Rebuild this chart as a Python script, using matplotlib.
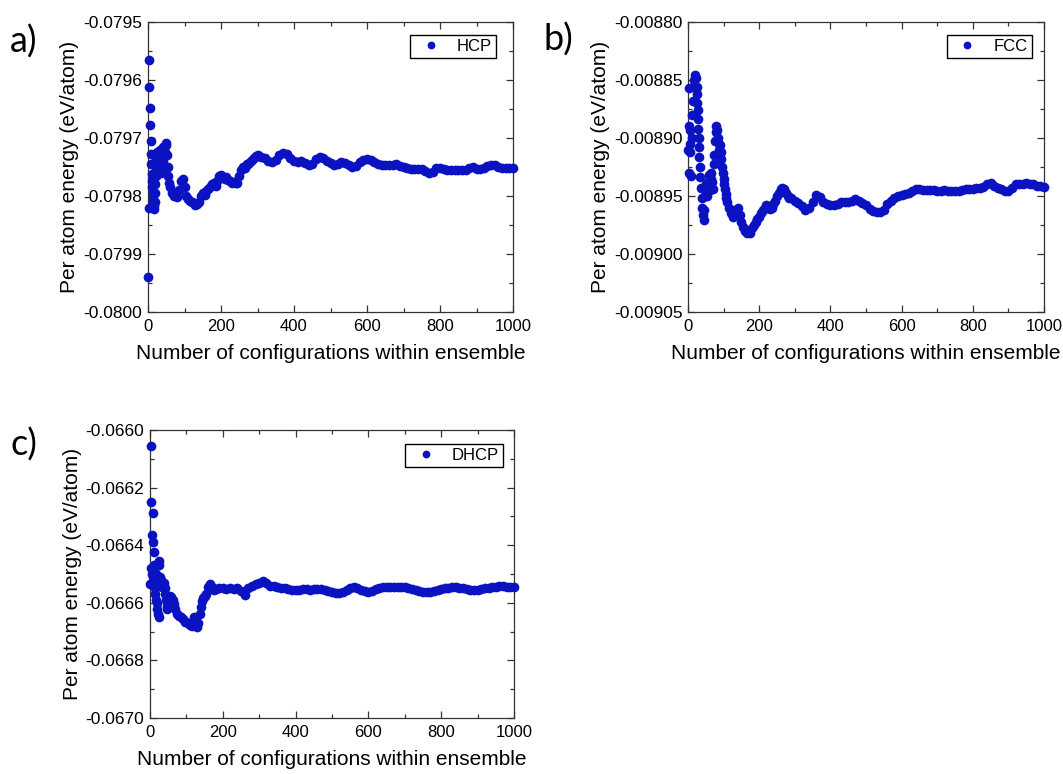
import matplotlib
matplotlib.use('Agg')
import matplotlib.pyplot as plt
from matplotlib.ticker import MultipleLocator, FormatStrFormatter

plt.rcParams['font.family'] = ['Liberation Sans', 'DejaVu Sans']

# ---------------- data ----------------
# HCP
hcp_n = ([1, 2, 3, 4, 5, 6, 7, 8, 9, 10, 11, 12, 13, 14, 15, 16, 17, 18, 19, 20,
          21, 22, 23, 24, 26, 28, 30, 32, 34, 36, 38, 40, 42, 44, 46, 48, 50, 52,
          54, 56, 58, 60]
         + list(range(65, 301, 5)) + list(range(310, 1001, 10)))
hcp_e = [-0.079940, -0.079820, -0.079565, -0.079612, -0.079649, -0.079678, -0.079706,
         -0.079727, -0.079745, -0.079762, -0.079775, -0.079785, -0.079795, -0.079805,
         -0.079812, -0.079818, -0.079822, -0.079810, -0.079795, -0.079780, -0.079765,
         -0.079750, -0.079735, -0.079725, -0.079745, -0.079760, -0.079735, -0.079720,
         -0.079745, -0.079760, -0.079730, -0.079715, -0.079740, -0.079755, -0.079725,
         -0.079708, -0.079712, -0.079730, -0.079750, -0.079765, -0.079778, -0.079785,
         # 65..300 step 5
         -0.079795, -0.079800, -0.079798, -0.079802, -0.079790, -0.079775, -0.079770, -0.079785,
         -0.079800, -0.079805, -0.079808, -0.079810, -0.079812, -0.079815, -0.079813, -0.079810,
         -0.079800, -0.079795, -0.079798, -0.079792, -0.079788, -0.079784, -0.079780, -0.079778,
         -0.079782, -0.079775, -0.079765, -0.079763, -0.079768, -0.079770, -0.079768, -0.079772,
         -0.079775, -0.079778, -0.079776, -0.079778, -0.079777, -0.079765, -0.079755, -0.079750,
         -0.079752, -0.079745, -0.079745, -0.079742, -0.079738, -0.079735, -0.079731, -0.079730,
         # 310..1000 step 10
         -0.079732, -0.079735, -0.079740, -0.079742, -0.079738, -0.079730, -0.079726, -0.079728, -0.079735, -0.079740,
         -0.079741, -0.079740, -0.079743, -0.079747, -0.079745, -0.079736, -0.079732, -0.079735, -0.079740, -0.079743,
         -0.079746, -0.079744, -0.079741, -0.079743, -0.079746, -0.079750, -0.079749, -0.079742, -0.079738, -0.079736,
         -0.079738, -0.079742, -0.079745, -0.079747, -0.079747, -0.079746, -0.079746, -0.079745, -0.079748, -0.079750,
         -0.079751, -0.079753, -0.079753, -0.079754, -0.079754, -0.079757, -0.079760, -0.079758, -0.079752, -0.079752,
         -0.079754, -0.079755, -0.079756, -0.079756, -0.079756, -0.079755, -0.079755, -0.079752, -0.079750, -0.079754,
         -0.079754, -0.079752, -0.079749, -0.079746, -0.079747, -0.079750, -0.079752, -0.079752, -0.079752, -0.079752]

# FCC
fcc_n = ([1, 2, 3, 4, 5, 6, 7, 8, 10, 12, 14, 16, 18, 20, 22, 24, 25, 26, 27, 28, 29,
          30, 31, 32, 33, 34] + list(range(36, 111, 2))
         + list(range(115, 291, 5)) + list(range(300, 1001, 10)))
fcc_e = [-0.008910, -0.008890, -0.008857, -0.008930, -0.008905, -0.008893, -0.008912,
         -0.008933, -0.008900, -0.008880, -0.008868, -0.008856, -0.008850, -0.008846,
         -0.008848, -0.008856, -0.008862, -0.008870, -0.008876, -0.008884, -0.008892,
         -0.008900, -0.008908, -0.008916, -0.008925, -0.008934,
         # 36..110 step 2
         -0.008943, -0.008952, -0.008960, -0.008966, -0.008971, -0.008962, -0.008950, -0.008940,
         -0.008945, -0.008950, -0.008938, -0.008932, -0.008940, -0.008945, -0.008935, -0.008930,
         -0.008938, -0.008944, -0.008922, -0.008915, -0.008903, -0.008895, -0.008890, -0.008893,
         -0.008900, -0.008905, -0.008910, -0.008906, -0.008912, -0.008918, -0.008925, -0.008930,
         -0.008935, -0.008940, -0.008944, -0.008948, -0.008952, -0.008955,
         # 115..290 step 5
         -0.008960, -0.008965, -0.008968, -0.008964, -0.008962, -0.008960, -0.008966, -0.008972,
         -0.008977, -0.008980, -0.008982, -0.008980, -0.008982, -0.008978, -0.008975, -0.008972,
         -0.008970, -0.008968, -0.008965, -0.008962, -0.008960, -0.008958, -0.008960, -0.008961,
         -0.008960, -0.008957, -0.008954, -0.008950, -0.008947, -0.008944, -0.008943, -0.008944,
         -0.008947, -0.008950, -0.008952, -0.008952,
         # 300..1000 step 10
         -0.008954, -0.008956, -0.008959, -0.008962, -0.008960, -0.008955, -0.008949, -0.008951, -0.008955, -0.008957,
         -0.008958, -0.008958, -0.008957, -0.008955, -0.008955, -0.008955, -0.008954, -0.008953, -0.008954, -0.008956,
         -0.008958, -0.008961, -0.008963, -0.008964, -0.008964, -0.008962, -0.008957, -0.008954, -0.008952, -0.008950,
         -0.008949, -0.008948, -0.008947, -0.008946, -0.008944, -0.008944, -0.008945, -0.008945, -0.008945, -0.008945,
         -0.008946, -0.008946, -0.008945, -0.008946, -0.008946, -0.008946, -0.008946, -0.008945, -0.008944, -0.008944,
         -0.008944, -0.008943, -0.008943, -0.008942, -0.008940, -0.008939, -0.008941, -0.008943, -0.008944, -0.008946,
         -0.008946, -0.008943, -0.008940, -0.008940, -0.008940, -0.008939, -0.008940, -0.008940, -0.008941, -0.008941,
         -0.008942]

# DHCP
dhcp_n = ([1, 2, 3, 4, 5, 6, 7, 8, 9, 10, 11, 12, 13, 14, 15, 16, 17, 18, 19, 20,
           22, 24, 25, 26, 28, 30, 32, 34, 36, 38, 40, 42, 44, 46, 48, 50, 53, 56,
           59, 62, 65, 70, 75, 80, 85, 90, 95, 100, 105, 110, 115, 120, 125, 130,
           133, 136, 139, 142, 145, 148, 151, 155, 160, 165, 170, 175, 180]
          + list(range(190, 1001, 10)))
dhcp_e = [-0.066535, -0.066055, -0.066250, -0.066480, -0.066500, -0.066365, -0.066390,
          -0.066510, -0.066288, -0.066425, -0.066470, -0.066490, -0.066520, -0.066550,
          -0.066570, -0.066590, -0.066500, -0.066530, -0.066600, -0.066620,
          -0.066640, -0.066650, -0.066455, -0.066470, -0.066510, -0.066520, -0.066535,
          -0.066545, -0.066540, -0.066530, -0.066550, -0.066570, -0.066590, -0.066610,
          -0.066620, -0.066600, -0.066580, -0.066575, -0.066580, -0.066590, -0.066605,
          -0.066620, -0.066640, -0.066645, -0.066650, -0.066655, -0.066665, -0.066668,
          -0.066670, -0.066676, -0.066680, -0.066650, -0.066670, -0.066685, -0.066670,
          -0.066640, -0.066615, -0.066595, -0.066585, -0.066580, -0.066575, -0.066570,
          -0.066545, -0.066535, -0.066545, -0.066555, -0.066552,
          # 190..1000 step 10
          -0.066550, -0.066550, -0.066553, -0.066550, -0.066552, -0.066550, -0.066560, -0.066572, -0.066548, -0.066542,
          -0.066535, -0.066530, -0.066525, -0.066532, -0.066540, -0.066540, -0.066545, -0.066548, -0.066550, -0.066553,
          -0.066554, -0.066555, -0.066554, -0.066552, -0.066553, -0.066555, -0.066552, -0.066551, -0.066553, -0.066555,
          -0.066558, -0.066562, -0.066566, -0.066565, -0.066562, -0.066555, -0.066548, -0.066545, -0.066550, -0.066556,
          -0.066560, -0.066562, -0.066558, -0.066553, -0.066548, -0.066546, -0.066545, -0.066545, -0.066544, -0.066546,
          -0.066545, -0.066545, -0.066548, -0.066552, -0.066556, -0.066560, -0.066562, -0.066562, -0.066562, -0.066558,
          -0.066555, -0.066553, -0.066550, -0.066548, -0.066546, -0.066545, -0.066548, -0.066550, -0.066552, -0.066555,
          -0.066557, -0.066556, -0.066553, -0.066550, -0.066547, -0.066545, -0.066544, -0.066543, -0.066543, -0.066544,
          -0.066545, -0.066545]

assert len(hcp_n) == len(hcp_e), (len(hcp_n), len(hcp_e))
assert len(fcc_n) == len(fcc_e), (len(fcc_n), len(fcc_e))
assert len(dhcp_n) == len(dhcp_e), (len(dhcp_n), len(dhcp_e))

BLUE = '#0a12c2'
W, H = 1063, 774
fig = plt.figure(figsize=(W / 100, H / 100), dpi=100)


def add_ax(l, r, t, b):
    return fig.add_axes([l / W, 1 - b / H, (r - l) / W, (b - t) / H])


def style(ax, n, e, label, ylim, ymaj, ymin, yfmt, anchor):
    ax.plot(n, e, 'o', color=BLUE, markersize=7.0, markeredgewidth=0,
            linestyle='none', label=label, clip_on=False, zorder=3)
    ax.set_xlim(0, 1000)
    ax.set_ylim(*ylim)
    ax.xaxis.set_major_locator(MultipleLocator(200))
    ax.xaxis.set_minor_locator(MultipleLocator(100))
    ax.yaxis.set_major_locator(MultipleLocator(ymaj))
    ax.yaxis.set_minor_locator(MultipleLocator(ymin))
    ax.yaxis.set_major_formatter(FormatStrFormatter(yfmt))
    ax.tick_params(which='both', direction='in', top=True, right=True,
                   color='#333333', width=0.9)
    ax.tick_params(axis='y', labelsize=12.5)
    ax.tick_params(axis='x', labelsize=12)
    ax.tick_params(which='major', length=5)
    ax.tick_params(which='minor', length=3)
    ax.tick_params(axis='x', which='major', pad=5)
    ax.tick_params(axis='y', which='major', pad=4)
    for s in ax.spines.values():
        s.set_linewidth(0.9)
        s.set_color('#333333')
    ax.set_xlabel('Number of configurations within ensemble', fontsize=15, labelpad=7)
    ax.set_ylabel('Per atom energy (eV/atom)', fontsize=15, labelpad=3)
    leg = ax.legend(loc='upper right', bbox_to_anchor=anchor, borderaxespad=0,
                    fontsize=12, frameon=True, fancybox=False, edgecolor='black',
                    borderpad=0.25, handletextpad=0.55, handlelength=2.0,
                    framealpha=1, markerscale=0.8)
    leg.get_frame().set_linewidth(1.0)


ax_a = add_ax(148, 513, 22, 312)
ax_b = add_ax(688, 1044, 22, 312)
ax_c = add_ax(150, 514, 430, 718)

style(ax_a, hcp_n, hcp_e, 'HCP', (-0.0800, -0.0795), 0.0001, 0.00005, '%.4f', (0.953, 0.956))
style(ax_b, fcc_n, fcc_e, 'FCC', (-0.00905, -0.00880), 0.00005, 0.000025, '%.5f', (0.965, 0.956))
style(ax_c, dhcp_n, dhcp_e, 'DHCP', (-0.0670, -0.0660), 0.0002, 0.0001, '%.4f', (0.97, 0.951))

panel_font = ['Lato', 'DejaVu Sans']
fig.text(10 / W, 1 - 42 / H, 'a)', fontsize=26, family=panel_font, ha='left', va='center')
fig.text(543 / W, 1 - 40 / H, 'b)', fontsize=26, family=panel_font, ha='left', va='center')
fig.text(10 / W, 1 - 445 / H, 'c)', fontsize=26, family=panel_font, ha='left', va='center')

fig.savefig('out.png', dpi=100)
